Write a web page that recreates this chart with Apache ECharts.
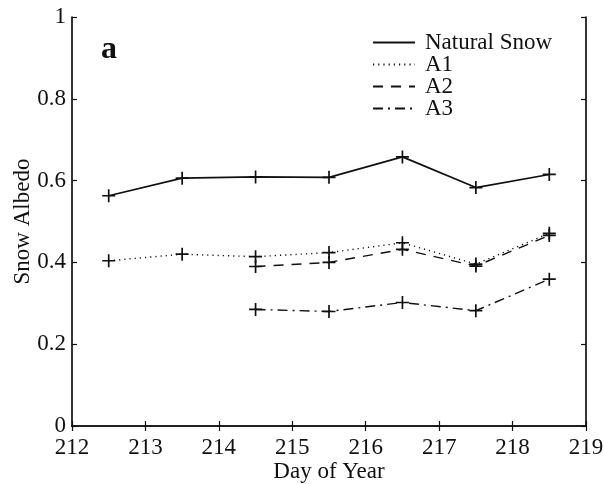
<!DOCTYPE html>
<html><head><meta charset="utf-8">
<script src="https://cdn.jsdelivr.net/npm/echarts@6/dist/echarts.min.js"></script>
<style>html,body{margin:0;padding:0;background:#fff}#c{width:604px;height:484px}</style>
</head><body><div id="c"></div>
<script>
var days = [212.5, 213.5, 214.5, 215.5, 216.5, 217.5, 218.5];
var naturalSnow = [0.563, 0.606, 0.609, 0.608, 0.658, 0.583, 0.615];
var a1 = [0.404, 0.420, 0.414, 0.424, 0.448, 0.396, 0.471];
var a2 = [null, null, 0.390, 0.400, 0.432, 0.391, 0.466];
var a3 = [null, null, 0.285, 0.280, 0.302, 0.282, 0.359];
var seriesNames = ['Natural Snow', 'A1', 'A2', 'A3'];
var xTicks = [212, 213, 214, 215, 216, 217, 218, 219];
var yTicks = [0, 0.2, 0.4, 0.6, 0.8, 1];

var font = '"Liberation Serif", "DejaVu Serif", serif';
function pairs(vals) {
  var out = [];
  for (var i = 0; i < days.length; i++) if (vals[i] != null) out.push([days[i], vals[i]]);
  return out;
}
var plus = 'path://M-1,0L1,0M0,-1L0,1';
function mk(name, vals, type, width) {
  return {
    name: name, type: 'line', data: pairs(vals),
    symbol: plus, symbolSize: 13,
    itemStyle: { color: '#000', borderColor: '#111', borderWidth: 1.7 },
    lineStyle: { color: '#111', width: width, type: type },
    emphasis: { disabled: true }, animation: false
  };
}
var axisCommon = {
  axisLine: { show: true, lineStyle: { color: '#111', width: 1.7 } },
  axisTick: { show: true, inside: true, length: 5, lineStyle: { color: '#111', width: 1.2 } },
  splitLine: { show: false }
};
var chart = echarts.init(document.getElementById('c'), null, { renderer: 'canvas' });
chart.setOption({
  backgroundColor: '#fff',
  grid: { left: 72, right: 18, top: 17, bottom: 58, containLabel: false, outerBoundsMode: 'none' },
  xAxis: [
    Object.assign({ type: 'value', min: xTicks[0], max: xTicks[xTicks.length - 1], interval: 1, position: 'bottom',
      name: 'Day of Year', nameLocation: 'middle', nameGap: 34, nameMoveOverlap: false,
      nameTextStyle: { fontFamily: font, fontSize: 23, color: '#111' },
      axisLabel: { fontFamily: font, fontSize: 23, color: '#111', margin: 10 } }, axisCommon),
    Object.assign({ type: 'value', min: xTicks[0], max: xTicks[xTicks.length - 1], interval: 1, position: 'top',
      axisLabel: { show: false } }, axisCommon)
  ],
  yAxis: [
    Object.assign({ type: 'value', min: yTicks[0], max: yTicks[yTicks.length - 1], interval: 0.2, position: 'left',
      name: 'Snow Albedo', nameLocation: 'middle', nameGap: 38, nameRotate: 90, nameMoveOverlap: false,
      nameTextStyle: { fontFamily: font, fontSize: 23, color: '#111' },
      axisLabel: { fontFamily: font, fontSize: 23, color: '#111', margin: 6,
        formatter: function (v) { return String(Math.round(v * 10) / 10); } } }, axisCommon),
    Object.assign({ type: 'value', min: yTicks[0], max: yTicks[yTicks.length - 1], interval: 0.2, position: 'right',
      axisLabel: { show: false } }, axisCommon)
  ],
  legend: {
    data: seriesNames, orient: 'vertical', left: 367, top: 26,
    itemWidth: 42, itemHeight: 10, itemGap: -1,
    itemStyle: { opacity: 0 },
    textStyle: { fontFamily: font, fontSize: 23, lineHeight: 21, color: '#111', padding: [0, 0, 0, 5] },
    selectedMode: false
  },
  graphic: [{ type: 'text', left: 101, top: 34, style: { text: 'a', font: 'bold 32px ' + font, fill: '#111' } }],
  series: [
    mk(seriesNames[0], naturalSnow, 'solid', 1.7),
    mk(seriesNames[1], a1, [1.2, 4], 1.4),
    mk(seriesNames[2], a2, [10, 8], 1.4),
    mk(seriesNames[3], a3, [10, 5, 2, 5], 1.4)
  ]
});
</script></body></html>
